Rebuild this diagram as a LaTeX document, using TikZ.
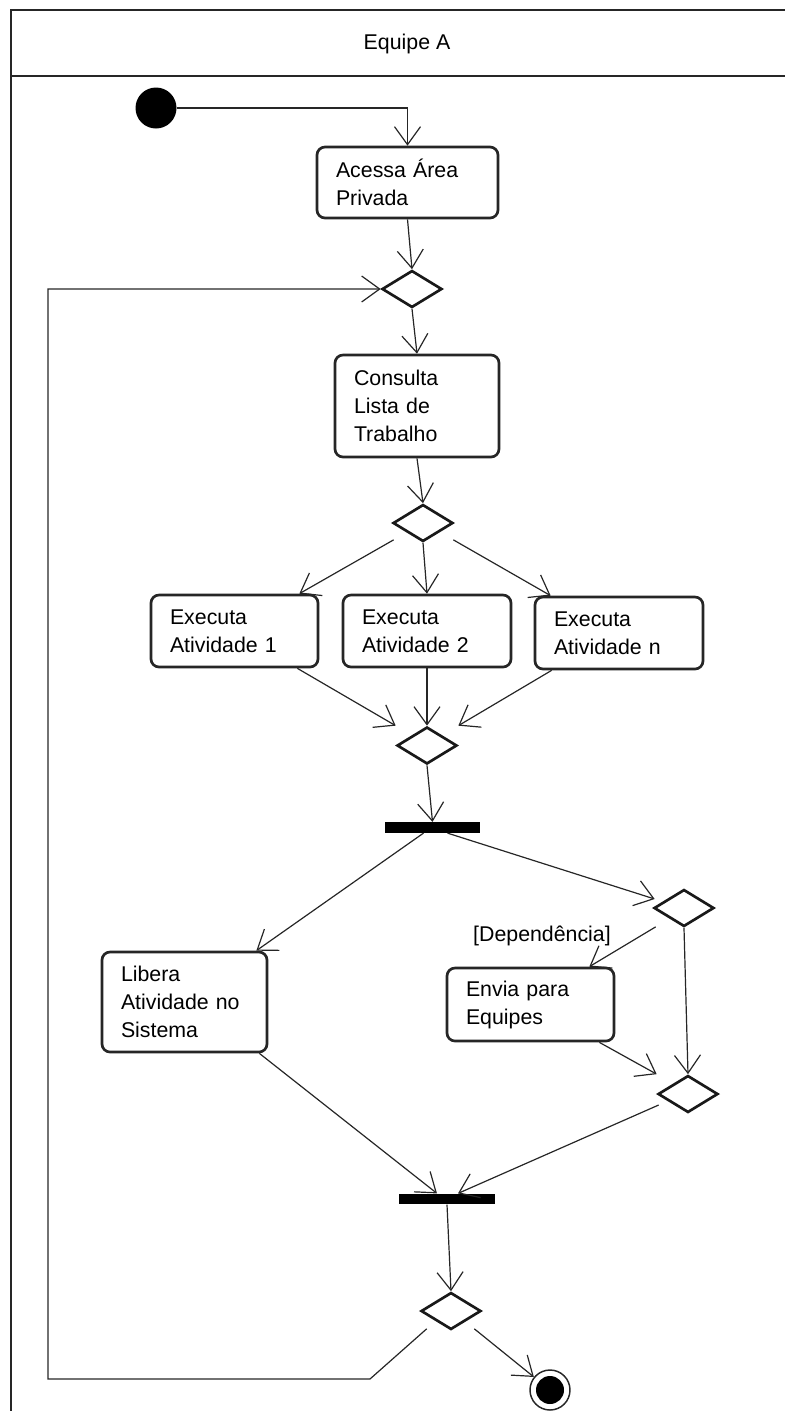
\documentclass[tikz,border=0pt]{standalone}
\usepackage{fontspec}
\setmainfont{Liberation Sans}
\usetikzlibrary{shapes.geometric,arrows.meta,calc}
\begin{document}
\begin{tikzpicture}[x=0.75pt,y=-0.75pt,
  every node/.style={font=\fontsize{16}{21}\selectfont},
  act/.style={draw=black!85, line width=2pt, rounded corners=6pt, align=left,
    inner xsep=14.25pt, inner ysep=0pt, fill=white},
  choice/.style={diamond, draw=black!90, line width=2pt, minimum width=45pt,
    minimum height=27.75pt, inner sep=0pt},
  bar/.style={fill=black, inner sep=0pt, minimum width=71.5pt, minimum height=8pt},
  flow/.style={draw=black!85, line width=0.9pt,
    -{Straight Barb[length=13.5pt,width=19.5pt]}},
  frame/.style={draw=black!85, line width=1.9pt}
]
\useasboundingbox (0,0) rectangle (785,1411);

% swimlane frame and its title
\draw[frame] (785,10) -- (11,10) -- (11,1411);
\draw[frame] (11,76) -- (785,76);
\node (lane) at (407,44) {Equipe A};

% activity nodes
\node[circle, fill=black, minimum size=30.75pt, inner sep=0pt] (start) at (156,108) {};
\node[act, text width=107.25pt, minimum height=53.25pt] (acessa) at (407.5,182.5) {Acessa Área\\Privada};
\node[choice] (d1) at (412,289) {};
\node[act, text width=94.5pt, minimum height=76.5pt] (consulta) at (417,406) {Consulta\\Lista de\\Trabalho};
\node[choice] (d2) at (423,523) {};
\node[act, text width=96.75pt, minimum height=54pt] (e1) at (234.5,631) {Executa\\Atividade 1};
\node[act, text width=97.5pt, minimum height=54pt] (e2) at (427,631) {Executa\\Atividade 2};
\node[act, text width=97.5pt, minimum height=54pt] (en) at (619,633) {Executa\\Atividade n};
\node[choice] (d6) at (427,745.5) {};
\node[bar] (fork) at (432.5,827.5) {};
\node[act, text width=95.25pt, minimum height=75pt] (libera) at (184.5,1002) {Libera\\Atividade no\\Sistema};
\node[choice] (d3) at (684,908) {};
\node (dep) at (542,936) {[Dependência]};
\node[act, text width=96.75pt, minimum height=54.75pt] (envia) at (530.5,1004.5) {Envia para\\Equipes};
\node[choice] (d4) at (688,1094) {};
\node[bar] (join) at (447,1199) {};
\node[choice] (d5) at (451,1311) {};
\node[circle, draw=black!85, line width=1.1pt, minimum size=30pt, inner sep=0pt,
  path picture={\fill[black] (path picture bounding box.center) circle (10.5pt);}] (stop) at (550,1390) {};

% control flows
\draw[flow] (start.east) -| (acessa.north);
\draw[flow] (acessa.south) -- (d1.north);
\draw[flow] (d1.south) -- (consulta.north);
\draw[flow] (consulta.south) -- (d2.north);
\draw[flow] ($(d2.west |- d2.south)+(2,-3)$) -- ($(e1.north east)+(-20,0)$);
\draw[flow] (d2.south) -- (e2.north);
\draw[flow] ($(d2.east |- d2.south)+(-1,-3)$) -- ($(en.north west)+(17,0)$);
\draw[flow] ($(e1.south east)+(-22,0)$) -- (d6.west |- d6.north);
\draw[flow] (e2.south) -- (d6.north);
\draw[flow] ($(en.south west)+(18,0)$) -- (d6.east |- d6.north);
\draw[flow] (d6.south) -- (fork.north);
\draw[flow] ($(fork.south)+(-9,0)$) -- ($(libera.north east)+(-12,0)$);
\draw[flow] ($(fork.south)+(15,0)$) -- ($(d3.west)+(2,-9)$);
\draw[flow] ($(d3.west |- d3.south)+(3,-1)$) -- ($(envia.north east)+(-26,0)$);
\draw[flow] (d3.south) -- (d4.north);
\draw[flow] ($(envia.south east)+(-16,0)$) -- (d4.west |- d4.north);
\draw[flow] ($(libera.south east)+(-9,0)$) -- ($(join.north)+(-10,0)$);
\draw[flow] ($(d4.west)+(2,11)$) -- ($(join.north)+(11,0)$);
\draw[flow] (join.south) -- (d5.north);
\draw[flow] ($(d5.east |- d5.south)+(-8,-2)$) -- (stop);

% loop back to the first decision
\coordinate (bend) at (370,1379);
\coordinate (back) at (48,1379);
\draw[flow] ($(d5.west |- d5.south)+(7,-2)$) -- (bend) -- (back) |- (d1.west);
\end{tikzpicture}
\end{document}
